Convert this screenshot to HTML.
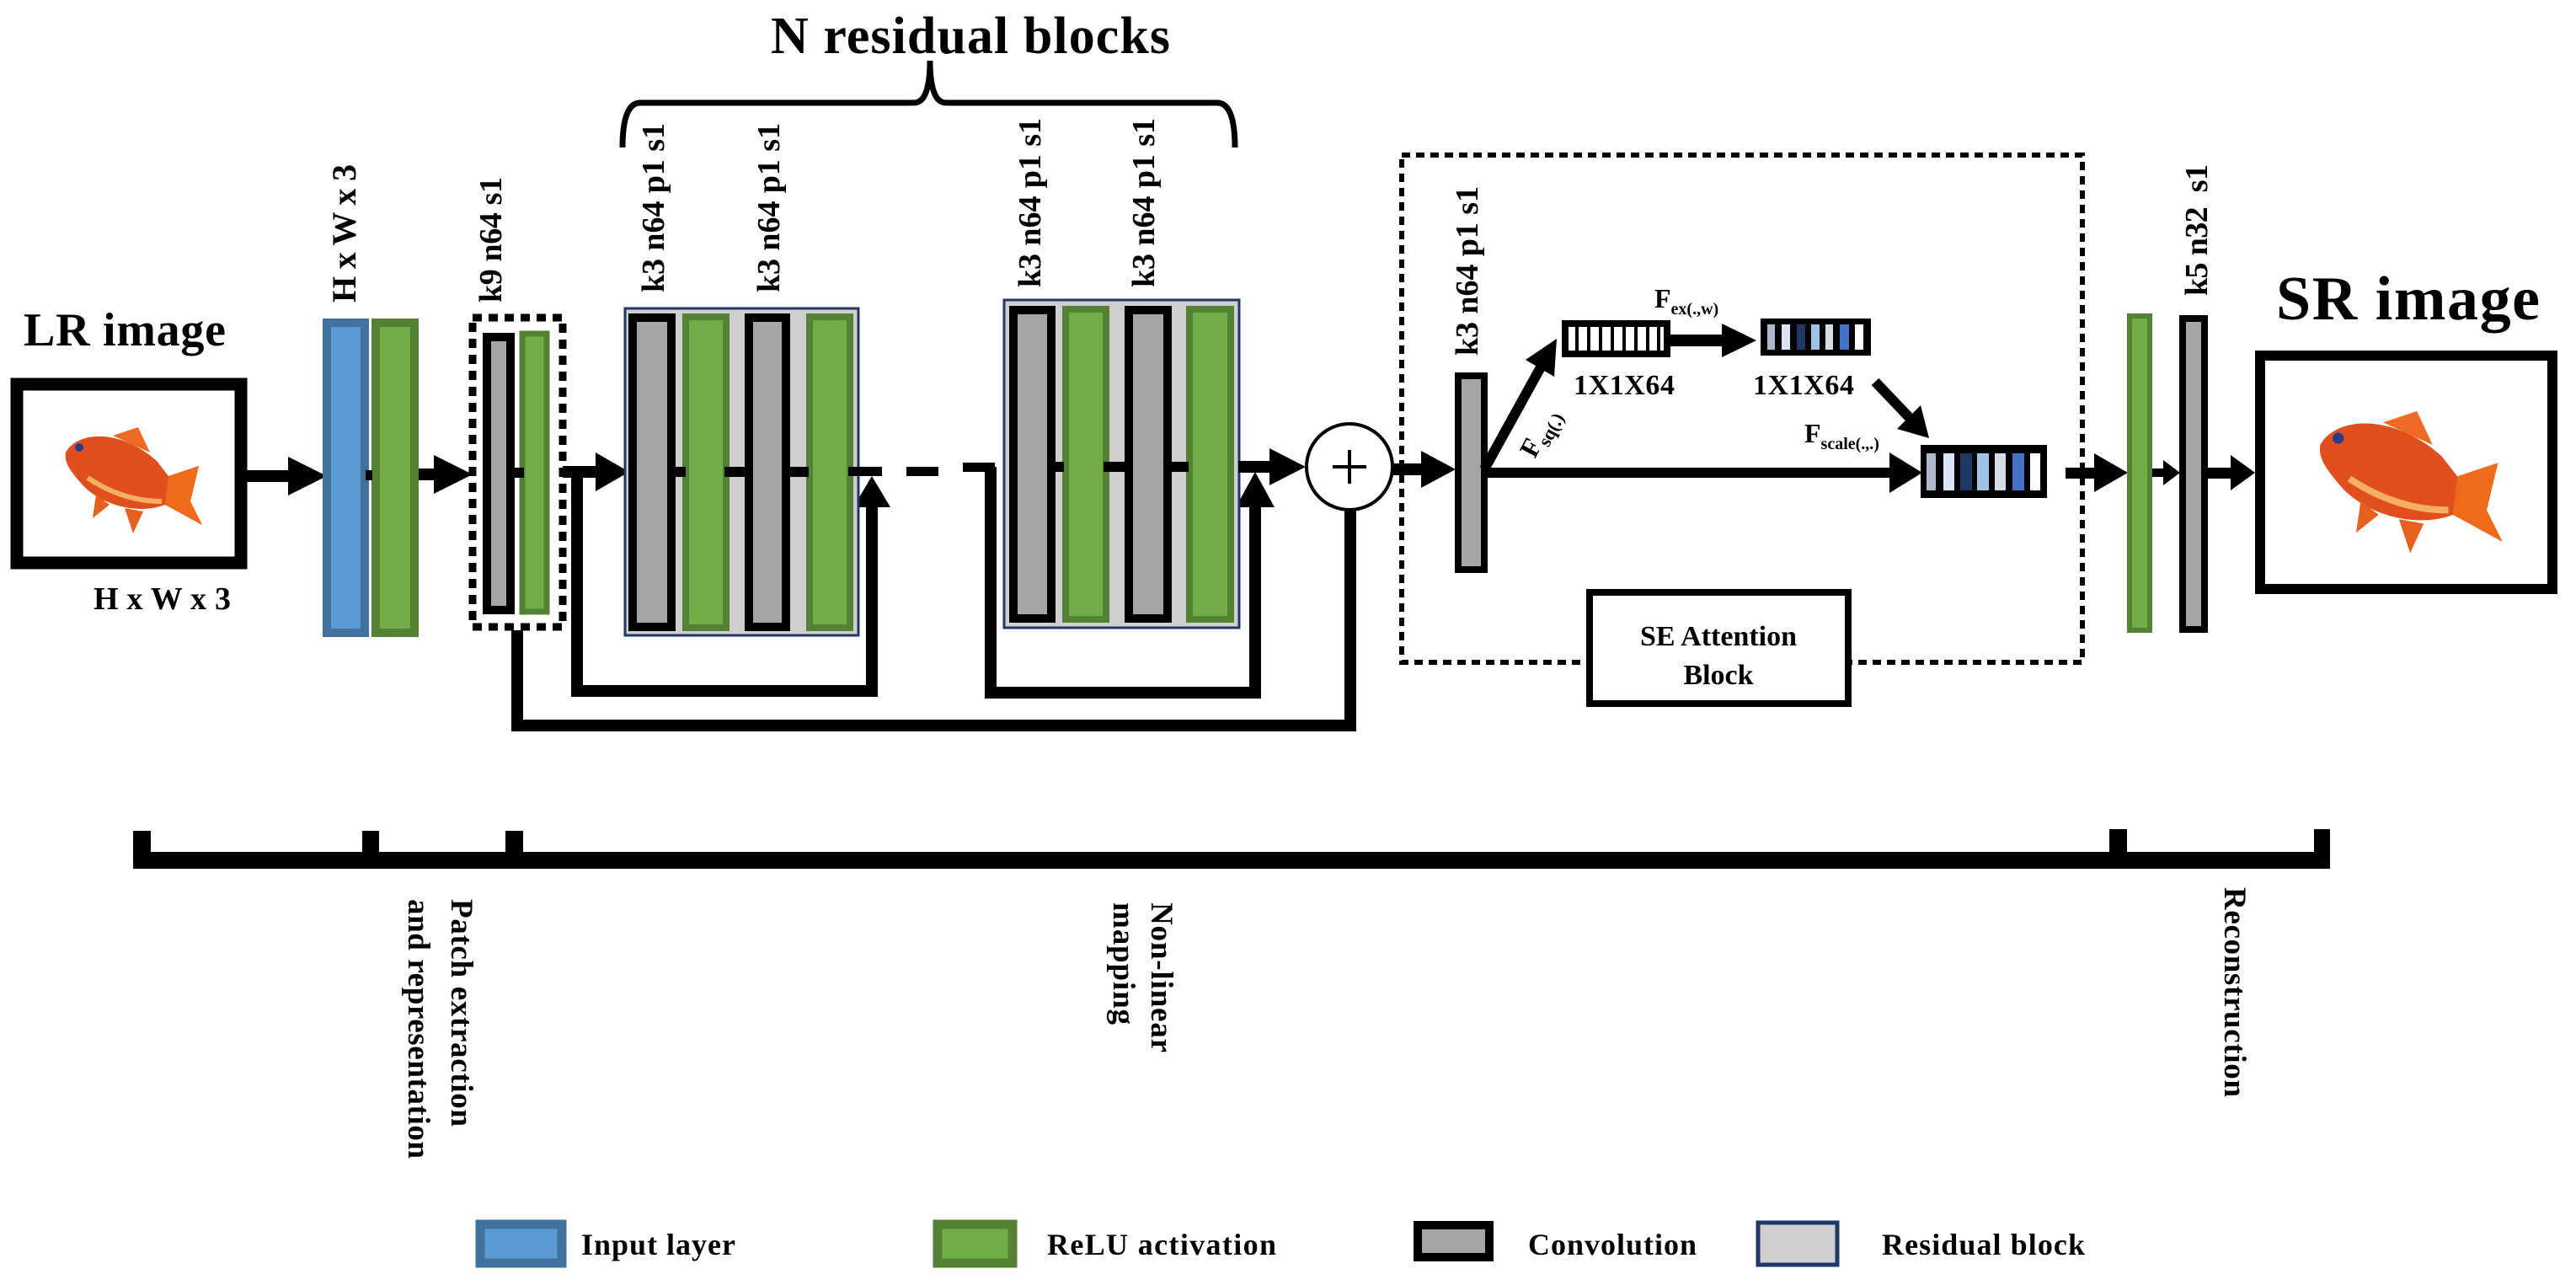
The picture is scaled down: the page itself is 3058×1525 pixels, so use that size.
<!DOCTYPE html>
<html><head><meta charset="utf-8"><style>html,body{margin:0;padding:0;background:#fff}svg{display:block}</style></head><body>
<svg width="3058" height="1525" viewBox="0 0 3058 1525" xmlns="http://www.w3.org/2000/svg" font-family="'Liberation Serif', serif" font-weight="bold">
<defs>
<g id="fish">
<path d="M4,30 C18,4 70,2 112,40 L126,58 L162,46 L152,88 L166,116 L122,92 C92,104 44,94 20,64 C10,52 2,42 4,30 Z" fill="#e0501e"/>
<path d="M60,10 L90,0 L104,30 Z" fill="#ee6a22"/>
<path d="M40,80 L36,108 L56,92 Z" fill="#e8601e"/>
<path d="M74,96 L84,126 L96,100 Z" fill="#e8601e"/>
<path d="M126,58 L162,46 L152,88 L166,116 L122,92 Z" fill="#f06a1c"/>
<path d="M30,60 C60,80 90,88 118,88" stroke="#f4b060" stroke-width="6" fill="none"/>
<circle cx="20" cy="24" r="5" fill="#2a3a8a"/>
</g>
</defs>

<!-- title -->
<text x="915" y="63" font-size="62" textLength="474">N residual blocks</text>
<path d="M739,175 Q739,122 760,122 L1085,122 Q1104,122 1104,72 Q1104,122 1123,122 L1445,122 Q1466,122 1466,175" fill="none" stroke="#000" stroke-width="7"/>

<!-- LR image -->
<text x="28" y="410" font-size="56" textLength="240">LR image</text>
<rect x="20" y="456" width="266" height="212" fill="#fff" stroke="#000" stroke-width="15"/>
<use href="#fish" transform="translate(74,507)"/>
<text x="111" y="723" font-size="38" textLength="163">H x W x 3</text>

<!-- arrow LR -> input -->
<rect x="293" y="558" width="52" height="14" fill="#000"/>
<polygon points="342,542 388,565 342,588" fill="#000"/>

<!-- input + relu -->
<rect x="388" y="383" width="45" height="368" fill="#5b9bd5" stroke="#41719c" stroke-width="10"/>
<rect x="446" y="383" width="46" height="368" fill="#70ad47" stroke="#548235" stroke-width="10"/>
<rect x="434" y="558" width="8" height="12" fill="#000"/>
<text transform="translate(422,359) rotate(-90)" font-size="40" textLength="164">H x W x 3</text>

<!-- arrow -> k9 -->
<rect x="497" y="556" width="20" height="14" fill="#000"/>
<polygon points="515,540 561,563 515,586" fill="#000"/>

<!-- k9 block -->
<rect x="561" y="377" width="107" height="367" fill="none" stroke="#000" stroke-width="9" stroke-dasharray="11 8"/>
<rect x="578" y="400" width="28" height="324" fill="#a5a5a5" stroke="#000" stroke-width="10"/>
<rect x="620" y="396" width="29" height="330" fill="#70ad47" stroke="#548235" stroke-width="7"/>
<rect x="611" y="555" width="11" height="12" fill="#000"/>
<text transform="translate(595,359) rotate(-90)" font-size="38" textLength="149">k9 n64 s1</text>

<!-- skip lines -->
<polyline points="614,748 614,861 1603,861 1603,606" fill="none" stroke="#000" stroke-width="14"/>
<polyline points="685,560 685,820 1035,820 1035,598" fill="none" stroke="#000" stroke-width="14"/>
<polygon points="1013,602 1035,565 1057,602" fill="#000"/>
<polyline points="1176,554 1176,822 1490,822 1490,598" fill="none" stroke="#000" stroke-width="14"/>
<polygon points="1467,602 1490,560 1513,602" fill="#000"/>

<!-- arrow into block1 -->
<rect x="668" y="553" width="42" height="14" fill="#000"/>
<polygon points="707,537 747,560 707,583" fill="#000"/>

<!-- residual block 1 -->
<rect x="742" y="366" width="277" height="388" fill="#d0cece" stroke="#1f3864" stroke-width="3"/>
<rect x="751" y="377" width="46" height="367" fill="#a5a5a5" stroke="#000" stroke-width="10"/>
<rect x="814" y="376" width="48" height="369" fill="#70ad47" stroke="#548235" stroke-width="8"/>
<rect x="889" y="377" width="44" height="367" fill="#a5a5a5" stroke="#000" stroke-width="10"/>
<rect x="961" y="376" width="48" height="369" fill="#70ad47" stroke="#548235" stroke-width="8"/>
<rect x="800" y="554" width="14" height="12" fill="#000"/>
<rect x="860" y="554" width="26" height="12" fill="#000"/>
<rect x="936" y="554" width="24" height="12" fill="#000"/>
<text transform="translate(788,347) rotate(-90)" font-size="38" textLength="201">k3 n64 p1 s1</text>
<text transform="translate(925,347) rotate(-90)" font-size="38" textLength="201">k3 n64 p1 s1</text>

<!-- exit + dashes -->
<rect x="1007" y="554" width="40" height="11" fill="#000"/>
<rect x="1076" y="554" width="38" height="11" fill="#000"/>
<rect x="1143" y="549" width="38" height="11" fill="#000"/>

<!-- residual block 2 -->
<rect x="1192" y="356" width="279" height="389" fill="#d0cece" stroke="#1f3864" stroke-width="3"/>
<rect x="1203" y="368" width="45" height="366" fill="#a5a5a5" stroke="#000" stroke-width="10"/>
<rect x="1265" y="367" width="48" height="368" fill="#70ad47" stroke="#548235" stroke-width="8"/>
<rect x="1340" y="368" width="46" height="366" fill="#a5a5a5" stroke="#000" stroke-width="10"/>
<rect x="1412" y="367" width="49" height="368" fill="#70ad47" stroke="#548235" stroke-width="8"/>
<rect x="1251" y="548" width="12" height="12" fill="#000"/>
<rect x="1310" y="548" width="28" height="12" fill="#000"/>
<rect x="1389" y="548" width="22" height="12" fill="#000"/>
<text transform="translate(1235,341) rotate(-90)" font-size="38" textLength="201">k3 n64 p1 s1</text>
<text transform="translate(1370,341) rotate(-90)" font-size="38" textLength="201">k3 n64 p1 s1</text>

<!-- exit arrow to plus -->
<rect x="1470" y="547" width="40" height="14" fill="#000"/>
<polygon points="1507,532 1550,554 1507,576" fill="#000"/>

<!-- plus -->
<circle cx="1602" cy="554" r="51" fill="#fff" stroke="#000" stroke-width="4"/>
<line x1="1582" y1="554" x2="1622" y2="554" stroke="#000" stroke-width="4"/>
<line x1="1602" y1="534" x2="1602" y2="574" stroke="#000" stroke-width="4"/>

<!-- SE dotted box -->
<rect x="1664" y="184" width="808" height="602" fill="none" stroke="#000" stroke-width="6" stroke-dasharray="10 7"/>

<!-- arrow plus -> SE conv -->
<rect x="1653" y="550" width="38" height="14" fill="#000"/>
<polygon points="1687,535 1728,557 1687,579" fill="#000"/>

<rect x="1731" y="446" width="31" height="230" fill="#a5a5a5" stroke="#000" stroke-width="8"/>
<text transform="translate(1754,422) rotate(-90)" font-size="38" textLength="201">k3 n64 p1 s1</text>

<!-- diag arrow -->
<line x1="1762" y1="557" x2="1830" y2="434" stroke="#000" stroke-width="12"/>
<polygon points="1848,402 1845,447 1811,427" fill="#000"/>
<text transform="translate(1822,545) rotate(-62)" font-size="32">F<tspan font-size="22" dy="8">sq(.)</tspan></text>

<!-- main line in SE -->
<rect x="1762" y="555" width="484" height="12" fill="#000"/>
<polygon points="2243,537 2282,561 2243,585" fill="#000"/>

<!-- vec1 -->
<rect x="1858" y="384" width="121" height="36" fill="#fff" stroke="#000" stroke-width="8"/>
<g fill="#000">
<rect x="1870" y="384" width="4" height="36"/><rect x="1884" y="384" width="4" height="36"/><rect x="1898" y="384" width="4" height="36"/>
<rect x="1912" y="384" width="4" height="36"/><rect x="1926" y="384" width="4" height="36"/><rect x="1940" y="384" width="4" height="36"/>
<rect x="1954" y="384" width="4" height="36"/><rect x="1967" y="384" width="4" height="36"/>
</g>
<text x="1868" y="468" font-size="34" textLength="120">1X1X64</text>
<text x="1964" y="365" font-size="32">F<tspan font-size="20" dy="8">ex(.,w)</tspan></text>

<rect x="1981" y="397" width="66" height="14" fill="#000"/>
<polygon points="2044,384 2085,404 2044,424" fill="#000"/>

<!-- vec2 -->
<rect x="2090" y="378" width="131" height="44" fill="#000"/>
<rect x="2098" y="385" width="9" height="30" fill="#adb9ca"/>
<rect x="2115" y="385" width="10" height="30" fill="#dae3f3"/>
<rect x="2133" y="385" width="10" height="30" fill="#1f3864"/>
<rect x="2150" y="385" width="10" height="30" fill="#9dc3e6"/>
<rect x="2167" y="385" width="9" height="30" fill="#d6dce5"/>
<rect x="2184" y="385" width="11" height="30" fill="#4472c4"/>
<rect x="2202" y="385" width="10" height="30" fill="#fff"/>
<text x="2081" y="468" font-size="34" textLength="120">1X1X64</text>

<!-- diag arrow 2 -->
<line x1="2226" y1="453" x2="2268" y2="497" stroke="#000" stroke-width="12"/>
<polygon points="2290,520 2280,481 2252,509" fill="#000"/>
<text x="2142" y="525" font-size="32">F<tspan font-size="20" dy="8">scale(.,.)</tspan></text>

<!-- vec3 -->
<rect x="2280" y="528" width="150" height="63" fill="#000"/>
<rect x="2287" y="538" width="11" height="44" fill="#adb9ca"/>
<rect x="2307" y="538" width="13" height="44" fill="#dae3f3"/>
<rect x="2327" y="538" width="14" height="44" fill="#1f3864"/>
<rect x="2347" y="538" width="14" height="44" fill="#9dc3e6"/>
<rect x="2368" y="538" width="13" height="44" fill="#d6dce5"/>
<rect x="2389" y="538" width="14" height="44" fill="#4472c4"/>
<rect x="2410" y="538" width="12" height="44" fill="#fff"/>

<!-- SE attention label box -->
<rect x="1887" y="703" width="307" height="132" fill="#fff" stroke="#000" stroke-width="8"/>
<text x="2040" y="766" font-size="34" text-anchor="middle">SE Attention</text>
<text x="2040" y="812" font-size="34" text-anchor="middle">Block</text>

<!-- out arrow -->
<rect x="2452" y="555" width="37" height="13" fill="#000"/>
<polygon points="2486,538 2526,561 2486,584" fill="#000"/>

<rect x="2528" y="375" width="24" height="373" fill="#70ad47" stroke="#548235" stroke-width="6"/>
<rect x="2555" y="556" width="16" height="10" fill="#000"/>
<polygon points="2568,546 2588,561 2568,576" fill="#000"/>
<rect x="2591" y="378" width="26" height="369" fill="#a5a5a5" stroke="#000" stroke-width="8"/>
<text transform="translate(2620,351) rotate(-90)" font-size="38" textLength="156" xml:space="preserve">k5 n32  s1</text>

<rect x="2619" y="555" width="32" height="13" fill="#000"/>
<polygon points="2648,540 2677,561 2648,582" fill="#000"/>

<!-- SR image -->
<text x="2702" y="379" font-size="74" textLength="313">SR image</text>
<rect x="2683" y="422" width="347" height="277" fill="#fff" stroke="#000" stroke-width="12"/>
<use href="#fish" transform="translate(2749,488) scale(1.335)"/>

<!-- timeline -->
<rect x="158" y="1011" width="2608" height="20" fill="#000"/>
<rect x="158" y="986" width="21" height="45" fill="#000"/>
<rect x="430" y="986" width="20" height="45" fill="#000"/>
<rect x="600" y="986" width="21" height="45" fill="#000"/>
<rect x="2504" y="984" width="21" height="47" fill="#000"/>
<rect x="2747" y="984" width="19" height="47" fill="#000"/>

<text transform="translate(536,1067) rotate(90)" font-size="37" textLength="270">Patch extraction</text>
<text transform="translate(485,1067) rotate(90)" font-size="37" textLength="308">and representation</text>
<text transform="translate(1367,1071) rotate(90)" font-size="37" textLength="178">Non-linear</text>
<text transform="translate(1322,1071) rotate(90)" font-size="37" textLength="145">mapping</text>
<text transform="translate(2641,1053) rotate(90)" font-size="37" textLength="249">Reconstruction</text>

<!-- legend -->
<rect x="570" y="1453" width="97" height="46" fill="#5b9bd5" stroke="#41719c" stroke-width="11"/>
<text x="690" y="1489" font-size="36" textLength="183">Input layer</text>
<rect x="1113" y="1453" width="89" height="46" fill="#70ad47" stroke="#548235" stroke-width="11"/>
<text x="1243" y="1489" font-size="36" textLength="272">ReLU activation</text>
<rect x="1683" y="1454" width="85" height="38" fill="#a5a5a5" stroke="#000" stroke-width="10"/>
<text x="1814" y="1489" font-size="36" textLength="200">Convolution</text>
<rect x="2087" y="1451" width="94" height="50" fill="#d0cece" stroke="#1f3864" stroke-width="5"/>
<text x="2234" y="1489" font-size="36" textLength="241">Residual block</text>
</svg>
</body></html>
